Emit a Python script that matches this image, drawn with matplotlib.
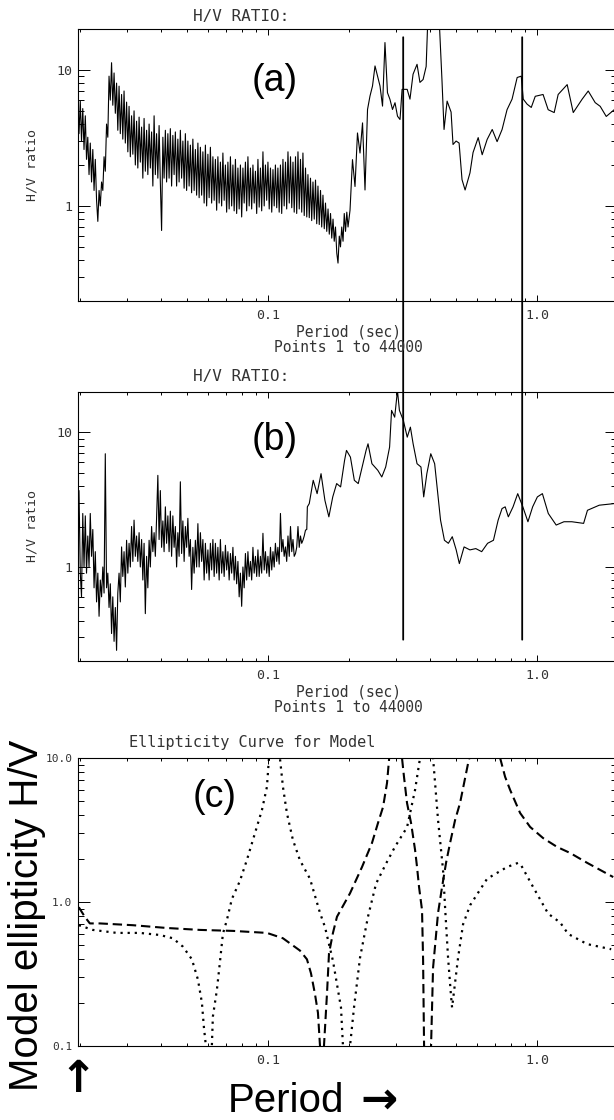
import matplotlib
matplotlib.use("Agg")
import matplotlib.pyplot as plt
from matplotlib.patches import ConnectionPatch
from matplotlib.ticker import FixedLocator, FixedFormatter, LogLocator, NullFormatter

# periods of the densely sampled, noisy short-period part (shared by (a) and (b))
period_fine = [
    0.01966, 0.01987, 0.02009, 0.02030, 0.02052, 0.02074, 0.02097, 0.02119,
    0.02142, 0.02165, 0.02188, 0.02212, 0.02236, 0.02260, 0.02284, 0.02309,
    0.02334, 0.02359, 0.02384, 0.02410, 0.02436, 0.02462, 0.02488, 0.02515,
    0.02542, 0.02569, 0.02597, 0.02625, 0.02653, 0.02682, 0.02711, 0.02740,
    0.02769, 0.02799, 0.02829, 0.02860, 0.02890, 0.02921, 0.02953, 0.02985,
    0.03017, 0.03049, 0.03082, 0.03115, 0.03149, 0.03182, 0.03217, 0.03251,
    0.03286, 0.03322, 0.03357, 0.03394, 0.03430, 0.03467, 0.03504, 0.03542,
    0.03580, 0.03619, 0.03657, 0.03697, 0.03737, 0.03777, 0.03817, 0.03858,
    0.03900, 0.03942, 0.03984, 0.04027, 0.04071, 0.04114, 0.04159, 0.04203,
    0.04249, 0.04294, 0.04340, 0.04387, 0.04434, 0.04482, 0.04530, 0.04579,
    0.04628, 0.04678, 0.04728, 0.04779, 0.04831, 0.04883, 0.04935, 0.04988,
    0.05042, 0.05096, 0.05151, 0.05206, 0.05262, 0.05319, 0.05376, 0.05434,
    0.05493, 0.05552, 0.05612, 0.05672, 0.05733, 0.05795, 0.05857, 0.05920,
    0.05984, 0.06048, 0.06113, 0.06179, 0.06245, 0.06313, 0.06380, 0.06449,
    0.06518, 0.06589, 0.06659, 0.06731, 0.06803, 0.06877, 0.06951, 0.07025,
    0.07101, 0.07177, 0.07255, 0.07333, 0.07412, 0.07491, 0.07572, 0.07653,
    0.07736, 0.07819, 0.07903, 0.07988, 0.08074, 0.08161, 0.08249, 0.08337,
    0.08427, 0.08518, 0.08609, 0.08702, 0.08796, 0.08890, 0.08986, 0.09083,
    0.09180, 0.09279, 0.09379, 0.09480, 0.09582, 0.09685, 0.09789, 0.09894,
    0.1000, 0.1011, 0.1022, 0.1033, 0.1044, 0.1055, 0.1066, 0.1078,
    0.1089, 0.1101, 0.1113, 0.1125, 0.1137, 0.1149, 0.1162, 0.1174,
    0.1187, 0.1200, 0.1213, 0.1226, 0.1239, 0.1252, 0.1266, 0.1279,
    0.1293, 0.1307, 0.1321, 0.1335, 0.1349, 0.1364, 0.1379, 0.1394,
    0.1408, 0.1424, 0.1439, 0.1454, 0.1470, 0.1486, 0.1502, 0.1518,
    0.1534, 0.1551, 0.1568, 0.1584, 0.1601, 0.1619, 0.1636, 0.1654,
    0.1672, 0.1690, 0.1708, 0.1726, 0.1745, 0.1763, 0.1782, 0.1802,
    0.1821, 0.1841, 0.1860, 0.1880, 0.1901, 0.1921, 0.1942, 0.1963,
    0.1984,
]

# ---- panel (a): H/V ratio, first record ----
ratio_a_fine = [
    6.4, 3.4, 5.9, 3.0, 5.2, 2.6, 4.6, 2.2,
    3.2, 1.7, 2.9, 1.5, 2.6, 1.3, 2.2, 1.1,
    0.77, 1.3, 1.0, 1.5, 1.3, 2.3, 1.8, 4.0,
    3.2, 9.0, 6.0, 11.3, 5.5, 9.5, 4.8, 8.0,
    3.6, 7.6, 3.4, 6.6, 3.1, 7.0, 2.9, 5.8,
    2.5, 5.4, 2.3, 4.6, 2.4, 5.0, 2.0, 4.2,
    1.9, 4.5, 2.1, 3.8, 1.6, 4.4, 1.8, 3.6,
    1.7, 4.0, 1.9, 3.5, 1.4, 4.6, 1.7, 3.4,
    1.6, 3.9, 1.5, 0.66, 3.2, 1.6, 3.6, 1.5,
    3.4, 1.6, 3.7, 1.4, 3.3, 1.7, 3.5, 1.4,
    3.1, 1.5, 3.6, 1.6, 3.0, 1.35, 3.4, 1.3,
    3.0, 1.4, 2.8, 1.25, 3.1, 1.3, 2.6, 1.2,
    2.9, 1.15, 2.7, 1.2, 2.5, 1.05, 2.8, 1.0,
    2.4, 1.15, 2.7, 1.05, 2.3, 1.1, 2.2, 0.93,
    2.3, 1.05, 2.1, 1.0, 2.45, 1.1, 2.0, 0.9,
    2.1, 0.95, 2.3, 1.0, 2.0, 0.92, 2.2, 0.88,
    1.9, 0.95, 2.0, 0.83, 1.9, 1.05, 2.1, 0.92,
    2.3, 1.0, 1.9, 0.95, 2.0, 1.05, 1.8, 0.88,
    2.2, 0.98, 1.9, 0.92, 2.5, 1.0, 2.0, 1.1,
    2.1, 0.95, 1.9, 0.9, 1.85, 1.0, 2.0, 0.97,
    1.9, 0.9, 2.0, 0.88, 2.2, 1.0, 2.1, 0.95,
    2.5, 1.05, 2.3, 0.97, 2.1, 0.9, 2.3, 0.88,
    2.5, 0.95, 2.2, 0.9, 2.45, 0.85, 1.9, 0.83,
    1.7, 0.82, 1.6, 0.78, 1.5, 0.8, 1.55, 0.74,
    1.4, 0.73, 1.3, 0.7, 1.2, 0.68, 1.05, 0.65,
    0.95, 0.62, 0.88, 0.58, 0.8, 0.55, 0.7, 0.45,
    0.38, 0.6, 0.5, 0.7, 0.55, 0.88, 0.65, 0.9,
    0.7,
]
period_a_tail = [
    0.2018, 0.2061, 0.2106, 0.2151, 0.2198, 0.2246, 0.2294, 0.2344, 0.2394, 0.2446,
    0.2499, 0.2553, 0.2608, 0.2665, 0.2721, 0.2780, 0.2840, 0.2902, 0.2965, 0.3029,
    0.3095, 0.315, 0.329, 0.337, 0.346, 0.358, 0.367, 0.377, 0.387, 0.393,
    0.432, 0.443, 0.451, 0.463, 0.479, 0.487, 0.500, 0.513, 0.526, 0.540,
    0.563, 0.578, 0.604, 0.625, 0.652, 0.681, 0.710, 0.741, 0.773, 0.807,
    0.843, 0.873, 0.888, 0.918, 0.951, 0.984, 1.052, 1.099, 1.157, 1.197,
    1.293, 1.362, 1.470, 1.548, 1.643, 1.715, 1.806, 1.933,
]
ratio_a_tail = [
    0.93, 2.19, 1.39, 3.44, 2.45, 4.08, 1.31, 5.12, 6.43, 7.62,
    10.7, 9.02, 7.62, 5.42, 15.9, 6.80, 6.07, 5.12, 5.74, 4.57,
    4.32, 7.2, 7.2, 6.1, 9.3, 11.0, 8.1, 8.5, 10.6, 25.0,
    25.0, 8.5, 3.65, 5.9, 4.9, 2.83, 3.0, 2.9, 1.56, 1.31,
    1.75, 2.47, 3.18, 2.38, 3.08, 3.65, 2.97, 3.65, 5.1, 6.1,
    8.8, 9.0, 6.1, 5.6, 5.3, 6.4, 6.6, 5.1, 4.86, 6.6,
    7.8, 4.86, 6.1, 7.0, 5.75, 5.4, 4.55, 5.1,
]

# ---- panel (b): H/V ratio, second record ----
ratio_b_fine = [
    1.6, 3.7, 0.9, 0.6, 2.5, 1.0, 2.4, 0.9,
    1.7, 1.0, 2.5, 1.2, 1.9, 0.7, 1.3, 0.55,
    0.9, 0.43, 0.8, 0.6, 1.0, 0.64, 6.95, 0.7,
    0.9, 0.5, 0.75, 0.32, 0.6, 0.28, 0.5, 0.24,
    0.64, 0.9, 0.55, 1.41, 0.85, 1.3, 0.71, 1.58,
    0.9, 1.5, 1.0, 2.0, 1.1, 2.23, 1.2, 1.7,
    1.1, 1.8, 1.0, 1.6, 0.8, 1.5, 0.45, 1.2,
    0.7, 1.58, 1.0, 2.0, 1.3, 1.8, 1.2, 2.3,
    4.8, 1.6, 3.7, 1.4, 2.2, 1.3, 2.8, 1.5,
    2.4, 1.3, 2.6, 1.2, 2.4, 1.4, 2.0, 1.0,
    1.8, 1.2, 4.3, 1.26, 2.2, 1.1, 2.0, 1.4,
    2.3, 1.2, 1.6, 0.68, 1.4, 0.9, 1.58, 1.0,
    2.1, 1.0, 1.8, 1.1, 1.6, 0.8, 1.5, 0.9,
    1.34, 0.8, 1.5, 0.95, 1.6, 0.85, 1.5, 0.9,
    1.4, 0.8, 1.6, 0.9, 1.3, 0.85, 1.45, 0.95,
    1.3, 0.8, 1.26, 0.9, 1.4, 0.8, 1.2, 0.75,
    1.1, 0.6, 0.9, 0.51, 1.0, 0.7, 1.26, 0.8,
    1.3, 0.85, 1.1, 0.8, 1.4, 0.9, 1.2, 0.85,
    1.34, 0.85, 1.2, 0.9, 1.78, 0.95, 1.3, 0.9,
    1.2, 0.85, 1.4, 0.95, 1.3, 1.0, 1.5, 1.1,
    1.4, 1.05, 2.5, 1.3, 1.6, 1.2, 1.41, 1.1,
    1.7, 1.2, 2.0, 1.3, 1.6, 1.2, 1.26, 1.4,
    2.0, 1.4, 1.7, 1.5, 1.58, 1.7, 1.88, 1.9,
]
period_b_tail = [
    0.1401, 0.1424, 0.1473, 0.1523, 0.1575, 0.1628, 0.1684, 0.1741, 0.1800, 0.1862,
    0.1926, 0.1958, 0.2025, 0.2094, 0.2165, 0.2239, 0.2315, 0.2354, 0.2434, 0.2560,
    0.2648, 0.2738, 0.2831, 0.2879, 0.2957, 0.3028, 0.3079, 0.3184, 0.3292, 0.3382,
    0.3462, 0.3580, 0.3702, 0.3790, 0.3893, 0.4026, 0.4162, 0.4276, 0.4377, 0.4525,
    0.4680, 0.4839, 0.5004, 0.5141, 0.5353, 0.5628, 0.5918, 0.6223, 0.6545, 0.6882,
    0.7164, 0.7407, 0.7609, 0.7816, 0.8138, 0.8470, 0.8849, 0.9243, 0.9623, 1.002,
    1.046, 1.100, 1.177, 1.258, 1.345, 1.488, 1.538, 1.701, 1.932,
]
ratio_b_tail = [
    2.80, 2.96, 4.41, 3.51, 4.94, 3.13, 2.36, 3.32, 4.17, 3.94,
    6.20, 7.36, 6.56, 4.41, 4.17, 5.54, 7.36, 8.24, 5.86, 5.23,
    4.67, 5.54, 7.79, 14.6, 13.0, 20.5, 14.6, 12.3, 9.23, 10.96,
    8.24, 5.86, 5.54, 3.32, 4.94, 6.95, 5.86, 3.51, 2.23, 1.58,
    1.50, 1.68, 1.34, 1.06, 1.41, 1.34, 1.37, 1.30, 1.50, 1.58,
    2.23, 2.72, 2.80, 2.36, 2.80, 3.51, 2.80, 2.17, 2.80, 3.32,
    3.51, 2.50, 2.05, 2.17, 2.17, 2.11, 2.64, 2.88, 2.96,
]

# vertical marker lines spanning (a) and (b)
marker_periods = [0.318, 0.88]
marker_top_a = 17.4
marker_bottom_b = 0.288

# ---- panel (c): model ellipticity curves ----
period_dash = [
    0.01983, 0.02088, 0.02180, 0.02374, 0.03150, 0.04212, 0.05587, 0.07411, 0.09915, 0.1137,
    0.1315, 0.1396, 0.1445, 0.1495, 0.1534, 0.1561, 0.158, 0.1615, 0.1657, 0.1686,
    0.1744, 0.1805, 0.2018, 0.2236, 0.2435, 0.2564, 0.2677, 0.2769, 0.2817, 0.298,
    0.3148, 0.3202, 0.3286, 0.3401, 0.3520, 0.3580, 0.3642, 0.3736, 0.3770, 0.3802,
    0.392, 0.4036, 0.4106, 0.4285, 0.4434, 0.4588, 0.4749, 0.4956, 0.5172, 0.5354,
    0.5541, 0.5637, 0.64, 0.7286, 0.7604, 0.7937, 0.8645, 0.9418, 1.052, 1.187,
    1.326, 1.534, 1.917,
]
ell_dash = [
    0.92, 0.79, 0.71, 0.71, 0.69, 0.66, 0.64, 0.63, 0.61, 0.56,
    0.46, 0.40, 0.32, 0.23, 0.17, 0.10, 0.06, 0.10, 0.23, 0.44,
    0.61, 0.79, 1.15, 1.75, 2.57, 3.54, 4.57, 6.7, 9.7, 30.0,
    10.0, 7.4, 4.87, 3.54, 2.30, 1.75, 1.27, 0.88, 0.40, 0.10,
    0.05, 0.10, 0.35, 0.84, 1.27, 1.87, 2.57, 3.7, 4.87, 6.7,
    9.2, 10.5, 30.0, 10.0, 7.4, 6.0, 4.15, 3.32, 2.78, 2.41,
    2.19, 1.87, 1.49,
]
period_dot = [
    0.01983, 0.02236, 0.02746, 0.03344, 0.03968, 0.04434, 0.04831, 0.05218, 0.05493, 0.05685,
    0.05783, 0.05883, 0.0600, 0.06190, 0.06244, 0.06462, 0.06630, 0.06802, 0.07040, 0.07347,
    0.07868, 0.08354, 0.08947, 0.09500, 0.09915, 0.1009, 0.104, 0.1108, 0.1137, 0.1176,
    0.1238, 0.1315, 0.1433, 0.1561, 0.1629, 0.1744, 0.1868, 0.1900, 0.1933, 0.2018,
    0.2088, 0.2198, 0.2353, 0.2521, 0.2747, 0.2965, 0.3286, 0.3520, 0.3673, 0.39,
    0.4106, 0.4285, 0.4472, 0.4550, 0.4668, 0.4790, 0.4831, 0.5085, 0.5307, 0.5637,
    0.6518, 0.7735, 0.8500, 0.8720, 0.9663, 1.099, 1.218, 1.304, 1.534, 1.884,
]
ell_dot = [
    0.69, 0.64, 0.61, 0.61, 0.59, 0.56, 0.49, 0.40, 0.29, 0.20,
    0.135, 0.10, 0.06, 0.10, 0.16, 0.245, 0.38, 0.60, 0.75, 1.05,
    1.4, 1.96, 3.0, 4.35, 6.3, 10.0, 30.0, 10.0, 6.3, 4.15,
    2.70, 1.95, 1.45, 0.84, 0.67, 0.39, 0.185, 0.10, 0.06, 0.10,
    0.185, 0.41, 0.79, 1.34, 1.85, 2.42, 3.3, 6.0, 10.0, 30.0,
    10.0, 3.7, 1.67, 0.92, 0.41, 0.22, 0.185, 0.41, 0.7, 0.95,
    1.45, 1.75, 1.87, 1.8, 1.27, 0.83, 0.72, 0.60, 0.51, 0.47,
]

period_a = period_fine + period_a_tail
ratio_a = ratio_a_fine + ratio_a_tail
period_b = period_fine[:len(ratio_b_fine)] + period_b_tail
ratio_b = ratio_b_fine + ratio_b_tail

W, H = 614, 1120
plt.rcParams['font.family'] = ['DejaVu Sans Mono']
fig = plt.figure(figsize=(W / 100, H / 100), dpi=100)
BIG = ['Liberation Sans', 'DejaVu Sans']
GREY = '#333333'


def box(top, bottom, left=78, right=617):
    return [left / W, 1 - bottom / H, (right - left) / W, (bottom - top) / H]


def style(ax, ylim, yticks, ylabels, ysize=9.5):
    ax.set_xscale('log')
    ax.set_yscale('log')
    ax.set_xlim(0.0197, 1.98)
    ax.set_ylim(*ylim)
    ax.xaxis.set_major_locator(FixedLocator([0.1, 1.0]))
    ax.xaxis.set_major_formatter(FixedFormatter(['0.1', '1.0']))
    ax.xaxis.set_minor_locator(LogLocator(base=10, subs=(2, 3, 4, 5, 6, 7, 8, 9), numticks=20))
    ax.xaxis.set_minor_formatter(NullFormatter())
    ax.yaxis.set_major_locator(FixedLocator(yticks))
    ax.yaxis.set_major_formatter(FixedFormatter(ylabels))
    ax.yaxis.set_minor_locator(LogLocator(base=10, subs=(2, 3, 4, 5, 6, 7, 8, 9), numticks=20))
    ax.yaxis.set_minor_formatter(NullFormatter())
    ax.tick_params(which='both', direction='in', top=True, right=True, width=0.7,
                   labelcolor=GREY)
    ax.tick_params(axis='x', which='major', length=4, pad=6, labelsize=9.5)
    ax.tick_params(axis='x', which='minor', length=2.2)
    ax.tick_params(axis='y', which='major', length=8.6, pad=4, labelsize=ysize)
    ax.tick_params(axis='y', which='minor', length=4.6)
    for s in ax.spines.values():
        s.set_linewidth(0.8)


def fx(px):
    return px / W


def fy(py):
    return 1 - py / H


ax_a = fig.add_axes(box(29, 301))
ax_b = fig.add_axes(box(392, 661))
ax_c = fig.add_axes(box(758, 1046))

ax_a.plot(period_a, ratio_a, color='black', lw=0.8)
style(ax_a, (0.2, 20), [1, 10], ['1', '10'])

ax_b.plot(period_b, ratio_b, color='black', lw=0.8)
style(ax_b, (0.2, 20), [1, 10], ['1', '10'])

ax_c.plot(period_dash, ell_dash, color='black', lw=1.5, linestyle=(0, (4.5, 2.3)))
ax_c.plot(period_dot, ell_dot, color='black', lw=1.6, linestyle=(0, (1, 2.2)))
style(ax_c, (0.1, 10), [0.1, 1, 10], ['0.1', '1.0', '10.0'], ysize=8)

for p in marker_periods:
    con = ConnectionPatch(xyA=(p, marker_top_a), coordsA=ax_a.transData,
                          xyB=(p, marker_bottom_b), coordsB=ax_b.transData,
                          color='black', lw=1.3)
    fig.add_artist(con)

# titles and axis texts (IDL style)
fig.text(fx(241), fy(17), 'H/V RATIO:', ha='center', va='center', fontsize=11.5, color=GREY)
fig.text(fx(241), fy(377), 'H/V RATIO:', ha='center', va='center', fontsize=11.5, color=GREY)
fig.text(fx(252), fy(743), 'Ellipticity Curve for Model', ha='center', va='center',
         fontsize=11, color=GREY)
for top_y in (332, 692):
    fig.text(fx(348), fy(top_y), 'Period (sec)', ha='center', va='center', fontsize=10.5, color=GREY)
    fig.text(fx(348), fy(top_y + 15), 'Points 1 to 44000', ha='center', va='center',
             fontsize=10.5, color=GREY)
fig.text(fx(32), fy(165), 'H/V ratio', rotation=90, ha='center', va='center', fontsize=9.5, color=GREY)
fig.text(fx(32), fy(526), 'H/V ratio', rotation=90, ha='center', va='center', fontsize=9.5, color=GREY)

# panel letters
fig.text(fx(275), fy(81), '(a)', ha='center', va='center', fontsize=27, family=BIG)
fig.text(fx(275), fy(440), '(b)', ha='center', va='center', fontsize=27, family=BIG)
fig.text(fx(215), fy(797), '(c)', ha='center', va='center', fontsize=27, family=BIG)

# large annotation labels
fig.text(fx(27), fy(915), 'Model ellipticity H/V', rotation=90, ha='center', va='center',
         fontsize=29, family=BIG)
fig.text(fx(78), fy(1080), '\u2191', ha='center', va='center', fontsize=32,
         family='DejaVu Sans', fontweight='bold')
fig.text(fx(228), fy(1101), 'Period', ha='left', va='center', fontsize=29, family=BIG)
fig.text(fx(379), fy(1100), '\u2192', ha='center', va='center', fontsize=32,
         family='DejaVu Sans', fontweight='bold')

fig.savefig('out.png', dpi=100)
